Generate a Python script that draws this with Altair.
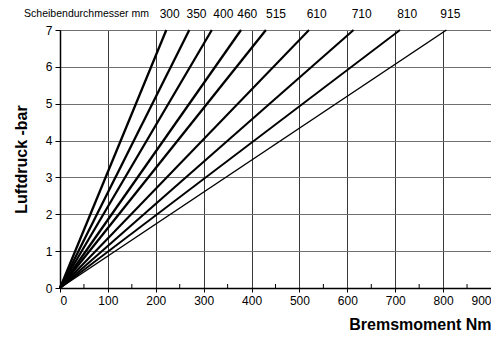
import altair as alt
import pandas as pd

# disc diameters (mm) and torque at 7 bar for each line
diameters = ["300", "350", "400", "460", "515", "610", "710", "810", "915"]
torque_at_7bar = [222, 270, 317, 378, 430, 520, 613, 710, 807]
label_x = [229, 285, 341, 391, 451, 536, 630, 725, 815]
line_widths = [2.3, 2.3, 2.3, 2.3, 2.3, 2.1, 2.1, 1.9, 1.5]
minor_ticks = [50, 150, 250, 350, 450, 550, 650, 750, 850]

rows = []
for d, t, w in zip(diameters, torque_at_7bar, line_widths):
    rows.append({"d": d, "x": 0, "y": 0, "w": w})
    rows.append({"d": d, "x": t, "y": 7, "w": w})
lines_df = pd.DataFrame(rows)
labels_df = pd.DataFrame({"d": diameters, "x": label_x})
minor_df = pd.DataFrame({"x": minor_ticks})

FONT = "Liberation Sans Narrow, Arial Narrow, Liberation Sans, sans-serif"
W, H = 431, 258

xscale = alt.Scale(domain=[0, 900], nice=False)
yscale = alt.Scale(domain=[0, 7], nice=False)

lines = alt.Chart(lines_df).mark_line(color="black", clip=False).encode(
    x=alt.X("x:Q", scale=xscale,
            axis=alt.Axis(values=list(range(0, 1000, 100)), title="Bremsmoment Nm",
                          titleFont=FONT, titleFontSize=16, titleFontWeight="bold",
                          titleAnchor="end", titleAlign="right", titlePadding=10,
                          labelFont=FONT, labelFontSize=12, labelColor="black",
                          grid=True, gridColor="#222", gridWidth=0.9,
                          domainColor="black", domainWidth=1.5, tickColor="black",
                          tickSize=4, labelPadding=3, titleColor="black")),
    y=alt.Y("y:Q", scale=yscale,
            axis=alt.Axis(values=list(range(0, 8)), title="Luftdruck -bar",
                          titleFont=FONT, titleFontSize=16, titleFontWeight="bold",
                          titlePadding=16, labelFont=FONT, labelFontSize=12,
                          labelColor="black", grid=True, gridColor="#707070", gridWidth=1.2,
                          domainColor="black", domainWidth=1.5, tickColor="black",
                          tickSize=5, labelPadding=3, titleColor="black")),
    detail="d:N",
    strokeWidth=alt.StrokeWidth("w:Q", scale=None, legend=None),
)

minor = alt.Chart(minor_df).mark_rule(color="black", strokeWidth=1).encode(
    x=alt.X("x:Q", scale=xscale),
    y=alt.value(H),
    y2=alt.value(H - 4),
)

labels = alt.Chart(labels_df).mark_text(
    font=FONT, fontSize=12, color="black", align="center", baseline="middle"
).encode(
    x=alt.X("x:Q", scale=xscale),
    y=alt.value(-16),
    text="d:N",
)

header = alt.Chart(pd.DataFrame({"t": ["Scheibendurchmesser mm"]})).mark_text(
    font=FONT, fontSize=10.5, color="black", align="right", baseline="middle"
).encode(
    x=alt.value(89),
    y=alt.value(-16),
    text="t:N",
)

chart = alt.layer(lines, minor, labels, header).properties(
    width=W, height=H,
    padding={"left": 52, "top": 22, "right": 0, "bottom": 47},
    autosize=alt.AutoSizeParams(type="none"),
).configure_view(stroke="black", strokeWidth=1.5).configure(background="white")

chart.save("out.html", embed_options={"renderer": "svg", "actions": False})
